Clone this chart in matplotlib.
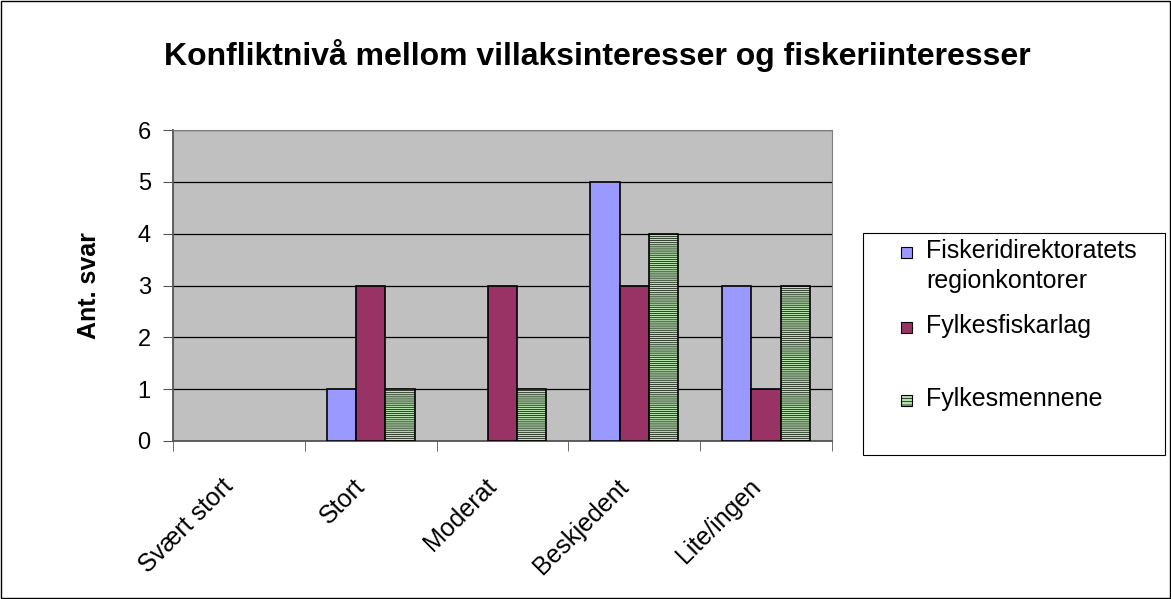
import numpy as np
import matplotlib.pyplot as plt
import matplotlib.transforms as mtransforms
from matplotlib.patches import Rectangle

categories = ['Svært stort', 'Stort', 'Moderat', 'Beskjedent', 'Lite/ingen']
series_names = ['Fiskeridirektoratets\nregionkontorer', 'Fylkesfiskarlag', 'Fylkesmennene']
fiskeridir = [0, 1, 0, 5, 3]
fylkesfiskarlag = [0, 3, 3, 3, 1]
fylkesmenn = [0, 1, 1, 4, 3]
colors = ['#9999ff', '#993366', '#b6e2ae']
hatches = [None, None, '--------']

plt.rcParams['font.family'] = ['Liberation Sans', 'DejaVu Sans']
plt.rcParams['hatch.linewidth'] = 0.5
plt.rcParams['hatch.color'] = '#a4d69c'

fig = plt.figure(figsize=(11.71, 5.99), dpi=100)
fig.patch.set_facecolor('white')
fig.patches.append(Rectangle((0.001, 0.002), 0.998, 0.996, transform=fig.transFigure,
                             fill=False, edgecolor='black', linewidth=1))

ax = fig.add_axes([0.1477, 0.2638, 0.5628, 0.519])
ax.set_facecolor('#c0c0c0')

x = np.arange(len(categories))
w = 1 / 4.5

for i, vals in enumerate([fiskeridir, fylkesfiskarlag, fylkesmenn]):
    # zero bars are not drawn in the original
    ax.bar(x + (i - 1) * w, vals, w, color=colors[i], edgecolor='black',
           linewidth=[1.2 if v else 0 for v in vals], hatch=hatches[i], zorder=3)

ax.set_xlim(-0.5, len(categories) - 0.5)
ax.set_ylim(0, 6)
ax.set_yticks(range(7))
ax.yaxis.grid(True, color='black', linewidth=0.9, zorder=1)
ax.tick_params(axis='y', direction='out', length=7, labelsize=17, color='#555555', pad=9)

ax.set_xticks(x)
ax.set_xticklabels(categories, rotation=45, ha='right', rotation_mode='anchor', fontsize=18)
ax.tick_params(axis='x', which='major', length=0, pad=24)
shift = mtransforms.ScaledTranslation(-18 / 100, 0, fig.dpi_scale_trans)
for lab in ax.get_xticklabels():
    lab.set_transform(lab.get_transform() + shift)
ax.set_xticks(np.arange(-0.5, len(categories)), minor=True)
ax.tick_params(axis='x', which='minor', direction='out', length=7, color='#555555')

for s in ['top', 'right']:
    ax.spines[s].set_color('#808080')
for s in ['left', 'bottom']:
    ax.spines[s].set_color('#555555')
    ax.spines[s].set_linewidth(1.3)

ax.set_ylabel('Ant. svar', fontsize=18, fontweight='bold', labelpad=26)
fig.text(0.51, 0.908, 'Konfliktnivå mellom villaksinteresser og fiskeriinteresser',
         ha='center', va='center', fontsize=23, fontweight='bold')

# legend, laid out by hand like the original (uneven spacing)
fig.patches.append(Rectangle((863 / 1171, 1 - 455 / 599), 302 / 1171, 222 / 599,
                             transform=fig.transFigure, fill=False, edgecolor='black',
                             linewidth=0.8))
entry_y = [252, 327, 400]
for name, c, h, yy in zip(series_names, colors, ['', '', '-----'], entry_y):
    fig.patches.append(Rectangle((901 / 1171, 1 - (yy + 6) / 599), 11 / 1171, 11 / 599,
                                 transform=fig.transFigure, facecolor=c, edgecolor='black',
                                 linewidth=0.8, hatch=h))
    fig.text(926 / 1171, 1 - (yy - 13) / 599, name, ha='left', va='top', fontsize=18,
             linespacing=1.3)

fig.savefig('out.png', dpi=100)
